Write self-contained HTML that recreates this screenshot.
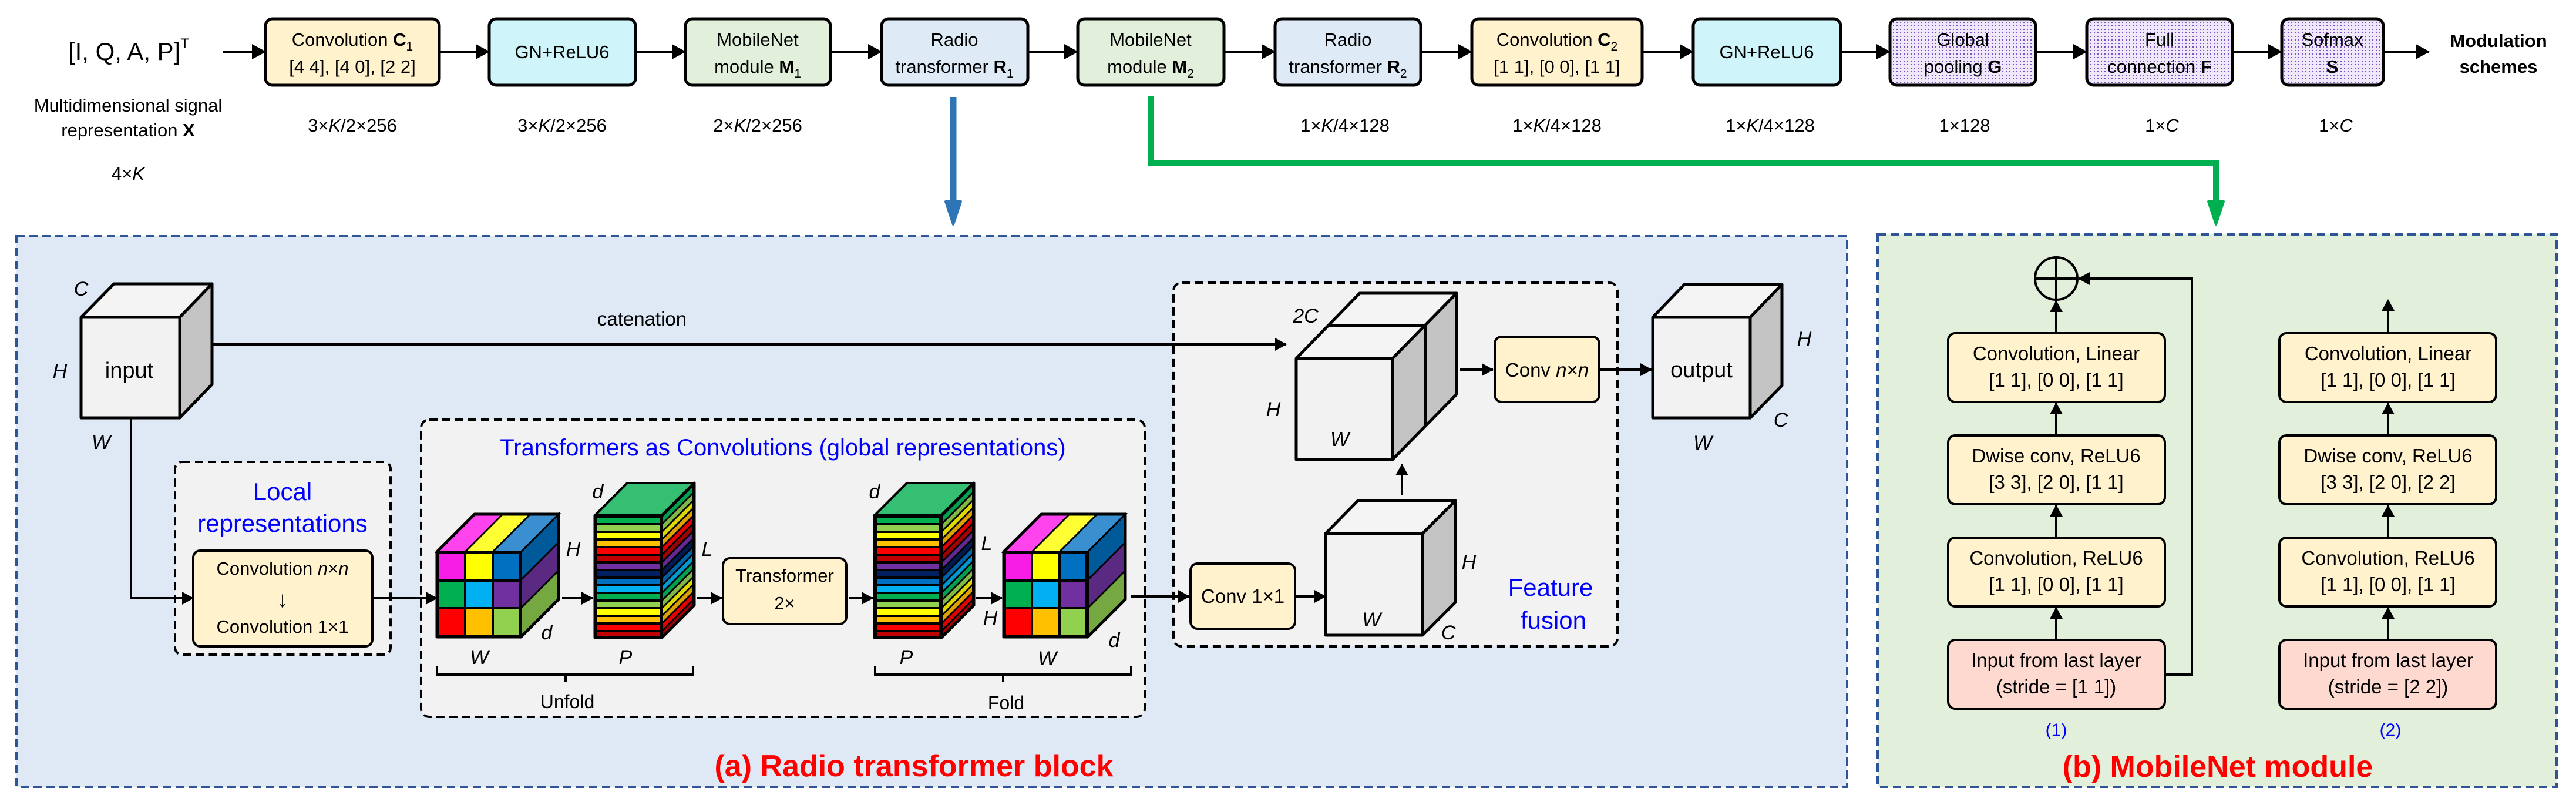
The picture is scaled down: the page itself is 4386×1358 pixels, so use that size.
<!DOCTYPE html>
<html><head><meta charset="utf-8"><style>
html,body{margin:0;padding:0;background:#fff;}
svg{display:block;font-family:"Liberation Sans",Arial,sans-serif;}
</style></head><body>
<svg width="4386" height="1358" viewBox="0 0 4386 1358" xmlns="http://www.w3.org/2000/svg">
<defs>
<marker id="ahb" markerWidth="24" markerHeight="26" refX="23" refY="13" orient="auto" markerUnits="userSpaceOnUse"><path d="M0,0 L24,13 L0,26 z" fill="#000"/></marker>
<marker id="ahs" markerWidth="20" markerHeight="22" refX="19" refY="11" orient="auto" markerUnits="userSpaceOnUse"><path d="M0,0 L20,11 L0,22 z" fill="#000"/></marker>
<pattern id="dots" width="6" height="6" patternUnits="userSpaceOnUse"><rect width="6" height="6" fill="#efe8fb"/><rect x="1" y="1" width="2" height="2" fill="#7b52c6"/></pattern>
<g id="stackF">
 <rect x="0" y="0" width="114" height="208" fill="#000"/>
 <rect x="4" y="4" width="106" height="9" fill="#00b050"/>
 <rect x="4" y="17" width="106" height="9" fill="#92d050"/>
 <rect x="4" y="30" width="106" height="9" fill="#ffff00"/>
 <rect x="4" y="43" width="106" height="9" fill="#ffc000"/>
 <rect x="4" y="56" width="106" height="9" fill="#ff0000"/>
 <rect x="4" y="69" width="106" height="9" fill="#c00000"/>
 <rect x="4" y="82" width="106" height="9" fill="#7030a0"/>
 <rect x="4" y="95" width="106" height="9" fill="#002060"/>
 <rect x="4" y="108" width="106" height="9" fill="#0070c0"/>
 <rect x="4" y="121" width="106" height="9" fill="#00b0f0"/>
 <rect x="4" y="134" width="106" height="9" fill="#00b050"/>
 <rect x="4" y="147" width="106" height="9" fill="#92d050"/>
 <rect x="4" y="160" width="106" height="9" fill="#ffff00"/>
 <rect x="4" y="173" width="106" height="9" fill="#ffc000"/>
 <rect x="4" y="186" width="106" height="9" fill="#ff0000"/>
 <rect x="4" y="199" width="106" height="6" fill="#c00000"/>
</g>
<g id="stackS">
 <rect x="0" y="0" width="55" height="208" fill="#000"/>
 <rect x="2" y="4" width="50" height="9" fill="#00a050"/>
 <rect x="2" y="17" width="50" height="9" fill="#80b848"/>
 <rect x="2" y="30" width="50" height="9" fill="#dcd800"/>
 <rect x="2" y="43" width="50" height="9" fill="#dca000"/>
 <rect x="2" y="56" width="50" height="9" fill="#e00000"/>
 <rect x="2" y="69" width="50" height="9" fill="#a00000"/>
 <rect x="2" y="82" width="50" height="9" fill="#602890"/>
 <rect x="2" y="95" width="50" height="9" fill="#001a50"/>
 <rect x="2" y="108" width="50" height="9" fill="#0060a8"/>
 <rect x="2" y="121" width="50" height="9" fill="#0098d0"/>
 <rect x="2" y="134" width="50" height="9" fill="#00a050"/>
 <rect x="2" y="147" width="50" height="9" fill="#80b848"/>
 <rect x="2" y="160" width="50" height="9" fill="#dcd800"/>
 <rect x="2" y="173" width="50" height="9" fill="#dca000"/>
 <rect x="2" y="186" width="50" height="9" fill="#e00000"/>
 <rect x="2" y="199" width="50" height="6" fill="#a00000"/>
</g>
<g id="stack">
 <use href="#stackF"/>
 <g transform="translate(114,0) skewY(-45)"><use href="#stackS"/></g>
 <path d="M0,0 L55,-55 L169,-55 L114,0 z" fill="#35bf72" stroke="#000" stroke-width="4" stroke-linejoin="round"/>
 <path d="M0,0 H114 L169,-55 V153 L114,208 H0 z" fill="none" stroke="#000" stroke-width="5" stroke-linejoin="round"/>
 <line x1="114" y1="0" x2="114" y2="208" stroke="#000" stroke-width="4"/>
</g>
<g id="ccube">
 <rect x="0" y="0" width="143" height="145" fill="#000"/>
 <rect x="4" y="4" width="42" height="43" fill="#f81de6"/>
 <rect x="50" y="4" width="43" height="43" fill="#ffff00"/>
 <rect x="97" y="4" width="42" height="43" fill="#0070c0"/>
 <rect x="4" y="51" width="42" height="43" fill="#00b050"/>
 <rect x="50" y="51" width="43" height="43" fill="#00b0f0"/>
 <rect x="97" y="51" width="42" height="43" fill="#7030a0"/>
 <rect x="4" y="98" width="42" height="43" fill="#ff0000"/>
 <rect x="50" y="98" width="43" height="43" fill="#ffc000"/>
 <rect x="97" y="98" width="42" height="43" fill="#92d050"/>
 <g transform="translate(143,0) skewY(-45)" stroke="#000" stroke-width="4">
  <rect x="0" y="0" width="64" height="48" fill="#005a9a"/>
  <rect x="0" y="48" width="64" height="48" fill="#5a2a82"/>
  <rect x="0" y="96" width="64" height="49" fill="#76a842"/>
 </g>
 <g transform="skewX(-45)" stroke="#000" stroke-width="4">
  <rect x="0" y="-64" width="48" height="64" fill="#ff44ee"/>
  <rect x="48" y="-64" width="47" height="64" fill="#ffff33"/>
  <rect x="95" y="-64" width="48" height="64" fill="#3a8fd0"/>
 </g>
 <path d="M0,0 L64,-64 H207 V81 L143,145 H0 z" fill="none" stroke="#000" stroke-width="5" stroke-linejoin="round"/>
</g>
</defs>

<!-- TOP FLOW -->
<g font-size="31" text-anchor="middle" fill="#000">
<text x="219" y="102" font-size="42">[I, Q, A, P]<tspan font-size="24" dy="-20">T</tspan></text>
<g stroke="#000" stroke-width="4" marker-end="url(#ahb)">
<line x1="379" y1="88" x2="452" y2="88"/>
<line x1="748" y1="88" x2="833" y2="88"/>
<line x1="1082" y1="88" x2="1167" y2="88"/>
<line x1="1414" y1="88" x2="1501" y2="88"/>
<line x1="1750" y1="88" x2="1835" y2="88"/>
<line x1="2084" y1="88" x2="2171" y2="88"/>
<line x1="2419" y1="88" x2="2506" y2="88"/>
<line x1="2796" y1="88" x2="2883" y2="88"/>
<line x1="3134" y1="88" x2="3218" y2="88"/>
<line x1="3466" y1="88" x2="3553" y2="88"/>
<line x1="3801" y1="88" x2="3885" y2="88"/>
<line x1="4058" y1="88" x2="4136" y2="88"/>
</g>
<g stroke="#000" stroke-width="5">
<rect x="452" y="32" width="296" height="113" rx="12" fill="#fff2cc"/>
<rect x="833" y="32" width="249" height="113" rx="12" fill="#cff5fb"/>
<rect x="1167" y="32" width="247" height="113" rx="12" fill="#e2efda"/>
<rect x="1501" y="32" width="249" height="113" rx="12" fill="#deebf7"/>
<rect x="1835" y="32" width="249" height="113" rx="12" fill="#e2efda"/>
<rect x="2171" y="32" width="248" height="113" rx="12" fill="#deebf7"/>
<rect x="2506" y="32" width="290" height="113" rx="12" fill="#fff2cc"/>
<rect x="2883" y="32" width="251" height="113" rx="12" fill="#cff5fb"/>
<rect x="3218" y="32" width="248" height="113" rx="12" fill="url(#dots)"/>
<rect x="3553" y="32" width="248" height="113" rx="12" fill="url(#dots)"/>
<rect x="3885" y="32" width="173" height="113" rx="12" fill="url(#dots)"/>
</g>
<text x="600" y="78">Convolution <tspan font-weight="bold">C</tspan><tspan font-size="21" dy="8">1</tspan></text>
<text x="600" y="124">[4 4], [4 0], [2 2]</text>
<text x="957" y="99">GN+ReLU6</text>
<text x="1290" y="78">MobileNet</text>
<text x="1290" y="124">module <tspan font-weight="bold">M</tspan><tspan font-size="21" dy="8">1</tspan></text>
<text x="1625" y="78">Radio</text>
<text x="1625" y="124">transformer <tspan font-weight="bold">R</tspan><tspan font-size="21" dy="8">1</tspan></text>
<text x="1959" y="78">MobileNet</text>
<text x="1959" y="124">module <tspan font-weight="bold">M</tspan><tspan font-size="21" dy="8">2</tspan></text>
<text x="2295" y="78">Radio</text>
<text x="2295" y="124">transformer <tspan font-weight="bold">R</tspan><tspan font-size="21" dy="8">2</tspan></text>
<text x="2651" y="78">Convolution <tspan font-weight="bold">C</tspan><tspan font-size="21" dy="8">2</tspan></text>
<text x="2651" y="124">[1 1], [0 0], [1 1]</text>
<text x="3008" y="99">GN+ReLU6</text>
<text x="3342" y="78">Global</text>
<text x="3342" y="124">pooling <tspan font-weight="bold">G</tspan></text>
<text x="3677" y="78">Full</text>
<text x="3677" y="124">connection <tspan font-weight="bold">F</tspan></text>
<text x="3971" y="78">Sofmax</text>
<text x="3971" y="124" font-weight="bold">S</text>
<text x="4254" y="80" font-weight="bold">Modulation</text>
<text x="4254" y="124" font-weight="bold">schemes</text>

<text x="218" y="190">Multidimensional signal</text>
<text x="218" y="232">representation <tspan font-weight="bold">X</tspan></text>
<text x="218" y="306">4×<tspan font-style="italic">K</tspan></text>
<text x="600" y="224">3×<tspan font-style="italic">K</tspan>/2×256</text>
<text x="957" y="224">3×<tspan font-style="italic">K</tspan>/2×256</text>
<text x="1290" y="224">2×<tspan font-style="italic">K</tspan>/2×256</text>
<text x="2290" y="224">1×<tspan font-style="italic">K</tspan>/4×128</text>
<text x="2651" y="224">1×<tspan font-style="italic">K</tspan>/4×128</text>
<text x="3014" y="224">1×<tspan font-style="italic">K</tspan>/4×128</text>
<text x="3345" y="224">1×128</text>
<text x="3681" y="224">1×<tspan font-style="italic">C</tspan></text>
<text x="3977" y="224">1×<tspan font-style="italic">C</tspan></text>
</g>

<!-- blue & green connectors -->
<line x1="1623" y1="165" x2="1623" y2="345" stroke="#2e75b6" stroke-width="11"/>
<path d="M1610,343 L1636,343 L1623,382 z" fill="#2e75b6" stroke="#2e75b6" stroke-width="4" stroke-linejoin="round"/>
<path d="M1960,163 V278 H3773 V345" fill="none" stroke="#00b050" stroke-width="10"/>
<path d="M3760,343 L3786,343 L3773,382 z" fill="#00b050" stroke="#00b050" stroke-width="4" stroke-linejoin="round"/>

<!-- PANEL A -->
<rect x="28" y="402" width="3117" height="937" fill="#dee9f5" stroke="#2f5597" stroke-width="4" stroke-dasharray="14,8"/>
<!-- PANEL B -->
<rect x="3197" y="399" width="1156" height="940" fill="#e2efda" stroke="#2f5597" stroke-width="4" stroke-dasharray="14,8"/>

<g fill="#f2f2f2" stroke="#000" stroke-width="4" stroke-dasharray="14,8">
<rect x="298" y="786" width="367" height="328" rx="12"/>
<rect x="717" y="714" width="1232" height="506" rx="14"/>
<rect x="1998" y="481" width="756" height="619" rx="14"/>
</g>

<!-- input cube -->
<g stroke="#000" stroke-width="5" stroke-linejoin="round">
<path d="M138,540 L194,483 H361 L306,540 z" fill="#f4f4f4"/>
<path d="M306,540 L361,483 V654 L306,711 z" fill="#c3c3c3"/>
<rect x="138" y="540" width="168" height="171" fill="#f2f2f2"/>
</g>
<g font-size="38" text-anchor="middle">
<text x="220" y="643">input</text>
<g font-style="italic" font-size="34"><text x="138" y="503">C</text><text x="102" y="643">H</text><text x="172" y="764">W</text></g>
</g>
<line x1="361" y1="586" x2="2190" y2="586" stroke="#000" stroke-width="4" marker-end="url(#ahs)"/>
<text x="1093" y="554" font-size="33" text-anchor="middle">catenation</text>
<path d="M223,711 V1018 H329" fill="none" stroke="#000" stroke-width="4" marker-end="url(#ahs)"/>

<!-- local rep -->
<g text-anchor="middle" fill="#0000ff" font-size="42"><text x="481" y="851">Local</text><text x="481" y="905">representations</text></g>
<rect x="329" y="937" width="305" height="163" rx="12" fill="#fff2cc" stroke="#000" stroke-width="4"/>
<g text-anchor="middle" font-size="31">
<text x="481" y="978">Convolution <tspan font-style="italic">n</tspan>×<tspan font-style="italic">n</tspan></text>
<text x="481" y="1033" font-size="38">↓</text>
<text x="481" y="1077">Convolution 1×1</text>
</g>
<line x1="634" y1="1018" x2="744" y2="1018" stroke="#000" stroke-width="4" marker-end="url(#ahs)"/>

<!-- global rep -->
<text x="1333" y="775" text-anchor="middle" fill="#0000ff" font-size="40">Transformers as Convolutions (global representations)</text>
<use href="#ccube" x="744" y="939"/>
<use href="#stack" x="1013" y="877"/>
<use href="#stack" x="1489" y="877"/>
<use href="#ccube" x="1709" y="939"/>
<g stroke="#000" stroke-width="4" marker-end="url(#ahs)">
<line x1="957" y1="1018" x2="1009" y2="1018"/>
<line x1="1186" y1="1018" x2="1229" y2="1018"/>
<line x1="1445" y1="1018" x2="1486" y2="1018"/>
<line x1="1662" y1="1018" x2="1706" y2="1018"/>
<line x1="1926" y1="1015" x2="2025" y2="1015"/>
</g>
<rect x="1231" y="950" width="210" height="112" rx="12" fill="#fff2cc" stroke="#000" stroke-width="4"/>
<g text-anchor="middle" font-size="31"><text x="1336" y="990">Transformer</text><text x="1336" y="1037">2×</text></g>
<g font-style="italic" font-size="34" text-anchor="middle">
<text x="976" y="946">H</text><text x="931" y="1088">d</text><text x="816" y="1130">W</text>
<text x="1018" y="848">d</text><text x="1204" y="946">L</text><text x="1065" y="1130">P</text>
<text x="1489" y="848">d</text><text x="1680" y="936">L</text><text x="1686" y="1063">H</text><text x="1543" y="1130">P</text>
<text x="1897" y="1101">d</text><text x="1783" y="1132">W</text>
</g>
<g fill="none" stroke="#000" stroke-width="4">
<path d="M744,1133 V1148 H1180 V1133 M963,1148 V1160"/>
<path d="M1490,1133 V1148 H1926 V1133 M1708,1148 V1160"/>
</g>
<g text-anchor="middle" font-size="32"><text x="966" y="1205">Unfold</text><text x="1713" y="1207">Fold</text></g>

<!-- feature fusion -->
<rect x="2027" y="959" width="178" height="111" rx="12" fill="#fff2cc" stroke="#000" stroke-width="4"/>
<text x="2116" y="1026" font-size="33" text-anchor="middle">Conv 1×1</text>
<line x1="2205" y1="1015" x2="2257" y2="1015" stroke="#000" stroke-width="4" marker-end="url(#ahs)"/>
<g stroke="#000" stroke-width="5" stroke-linejoin="round">
<path d="M2257,908 L2312,852 H2478 L2422,908 z" fill="#f4f4f4"/>
<path d="M2422,908 L2478,852 V1025 L2422,1081 z" fill="#c3c3c3"/>
<rect x="2257" y="908" width="165" height="173" fill="#f2f2f2"/>
</g>
<line x1="2387" y1="842" x2="2387" y2="790" stroke="#000" stroke-width="4" marker-end="url(#ahs)"/>
<g stroke="#000" stroke-width="5" stroke-linejoin="round">
<path d="M2207,610 L2315,499 H2480 L2371,610 z" fill="#f4f4f4"/>
<path d="M2371,610 L2480,499 V671 L2371,782 z" fill="#c3c3c3"/>
<line x1="2261" y1="554" x2="2427" y2="554"/>
<line x1="2427" y1="554" x2="2427" y2="726"/>
<rect x="2207" y="610" width="164" height="172" fill="#f2f2f2"/>
</g>
<line x1="2486" y1="629" x2="2542" y2="629" stroke="#000" stroke-width="4" marker-end="url(#ahs)"/>
<rect x="2545" y="573" width="178" height="111" rx="12" fill="#fff2cc" stroke="#000" stroke-width="4"/>
<text x="2634" y="641" font-size="33" text-anchor="middle">Conv <tspan font-style="italic">n</tspan>×<tspan font-style="italic">n</tspan></text>
<line x1="2725" y1="629" x2="2812" y2="629" stroke="#000" stroke-width="4" marker-end="url(#ahs)"/>
<g stroke="#000" stroke-width="5" stroke-linejoin="round">
<path d="M2814,540 L2868,484 H3034 L2980,540 z" fill="#f4f4f4"/>
<path d="M2980,540 L3034,484 V656 L2980,711 z" fill="#c3c3c3"/>
<rect x="2814" y="540" width="166" height="171" fill="#f2f2f2"/>
</g>
<text x="2897" y="642" font-size="38" text-anchor="middle">output</text>
<g font-style="italic" font-size="34" text-anchor="middle">
<text x="2501" y="968">H</text><text x="2335" y="1066">W</text><text x="2466" y="1088">C</text>
<text x="2223" y="549">2C</text><text x="2168" y="708">H</text><text x="2281" y="759">W</text>
<text x="3072" y="588">H</text><text x="3032" y="726">C</text><text x="2899" y="765">W</text>
</g>
<g text-anchor="middle" fill="#0000ff" font-size="42"><text x="2640" y="1014">Feature</text><text x="2645" y="1070">fusion</text></g>

<text x="1556" y="1321" text-anchor="middle" fill="#ff0000" font-size="52" font-weight="bold">(a) Radio transformer block</text>

<!-- PANEL B contents -->
<g stroke="#000" stroke-width="4">
<rect x="3317" y="567" width="369" height="117" rx="12" fill="#fff2cc"/>
<rect x="3317" y="741" width="369" height="117" rx="12" fill="#fff2cc"/>
<rect x="3317" y="915" width="369" height="117" rx="12" fill="#fff2cc"/>
<rect x="3317" y="1089" width="369" height="117" rx="12" fill="#fdd9cf"/>
<rect x="3881" y="567" width="369" height="117" rx="12" fill="#fff2cc"/>
<rect x="3881" y="741" width="369" height="117" rx="12" fill="#fff2cc"/>
<rect x="3881" y="915" width="369" height="117" rx="12" fill="#fff2cc"/>
<rect x="3881" y="1089" width="369" height="117" rx="12" fill="#fdd9cf"/>
</g>
<g stroke="#000" stroke-width="4" marker-end="url(#ahs)">
<line x1="3501" y1="1089" x2="3501" y2="1034"/>
<line x1="3501" y1="915" x2="3501" y2="860"/>
<line x1="3501" y1="741" x2="3501" y2="686"/>
<line x1="3501" y1="567" x2="3501" y2="512"/>
<line x1="4066" y1="1089" x2="4066" y2="1034"/>
<line x1="4066" y1="915" x2="4066" y2="860"/>
<line x1="4066" y1="741" x2="4066" y2="686"/>
<line x1="4066" y1="567" x2="4066" y2="510"/>
<path d="M3686,1148 H3732 V474 H3539" fill="none"/>
</g>
<g fill="none" stroke="#000" stroke-width="4">
<circle cx="3501" cy="474" r="36"/>
<line x1="3465" y1="474" x2="3537" y2="474"/><line x1="3501" y1="438" x2="3501" y2="510"/>
</g>
<g text-anchor="middle" font-size="33">
<text x="3501" y="613">Convolution, Linear</text><text x="3501" y="658">[1 1], [0 0], [1 1]</text>
<text x="3501" y="787">Dwise conv, ReLU6</text><text x="3501" y="832">[3 3], [2 0], [1 1]</text>
<text x="3501" y="961">Convolution, ReLU6</text><text x="3501" y="1006">[1 1], [0 0], [1 1]</text>
<text x="3501" y="1135">Input from last layer</text><text x="3501" y="1180">(stride = [1 1])</text>
<text x="4066" y="613">Convolution, Linear</text><text x="4066" y="658">[1 1], [0 0], [1 1]</text>
<text x="4066" y="787">Dwise conv, ReLU6</text><text x="4066" y="832">[3 3], [2 0], [2 2]</text>
<text x="4066" y="961">Convolution, ReLU6</text><text x="4066" y="1006">[1 1], [0 0], [1 1]</text>
<text x="4066" y="1135">Input from last layer</text><text x="4066" y="1180">(stride = [2 2])</text>
<g fill="#0000ff" font-size="30"><text x="3501" y="1252">(1)</text><text x="4070" y="1252">(2)</text></g>
</g>
<text x="3776" y="1322" text-anchor="middle" fill="#ff0000" font-size="52" font-weight="bold">(b) MobileNet module</text>
</svg>
</body></html>
